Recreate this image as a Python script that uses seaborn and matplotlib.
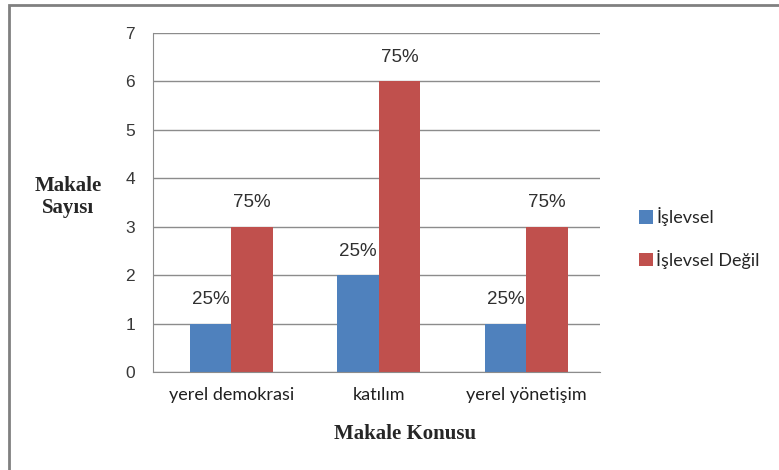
import numpy as np
import pandas as pd
import seaborn as sns
import matplotlib.pyplot as plt
from matplotlib.patches import Rectangle, Patch

# data
konular = ['yerel demokrasi', 'katılım', 'yerel yönetişim']
islevsel = [1, 2, 1]
islevsel_degil = [3, 6, 3]
yuzde_islevsel = ['25%', '25%', '25%']
yuzde_degil = ['75%', '75%', '75%']
seriler = ['İşlevsel', 'İşlevsel Değil']
renkler = ['#4F81BD', '#C0504D']

df = pd.DataFrame({
    'konu': konular * 2,
    'seri': [seriler[0]] * 3 + [seriler[1]] * 3,
    'sayi': islevsel + islevsel_degil,
})

sns.set_style('white')
plt.rcParams['font.family'] = ['Liberation Sans', 'DejaVu Sans']

fig = plt.figure(figsize=(7.79, 4.70), dpi=100)
fig.patch.set_facecolor('white')
ax = fig.add_axes([153 / 779, 1 - 372 / 470, 447 / 779, 339 / 470])

sns.barplot(data=df, x='konu', y='sayi', hue='seri', palette=renkler,
            width=0.565, saturation=1, ax=ax, legend=False,
            linewidth=0, edgecolor='none')

ax.set_ylim(0, 7)
ax.set_xlim(-0.53, 2.5)
ax.set_yticks(range(0, 8))
ax.yaxis.grid(True, color='#8c8c8c', linewidth=1)
ax.set_axisbelow(True)
for s in ['top', 'right']:
    ax.spines[s].set_visible(False)
for s in ['left', 'bottom']:
    ax.spines[s].set_color('#8c8c8c')

ax.tick_params(axis='y', length=5, color='#8c8c8c', labelsize=12.5,
               labelcolor='#383838', direction='out', pad=8)
ax.set_xticks([-0.53, 0.5, 1.5, 2.5])
ax.set_xticklabels([])
ax.set_xticks(range(3), minor=True)
ax.set_xticklabels(konular, minor=True, fontsize=13, color='#202020',
                   family=['Lato', 'DejaVu Sans'])
ax.tick_params(axis='x', which='major', length=6, color='#8c8c8c', direction='out')
ax.tick_params(axis='x', which='minor', length=0, pad=11)
ax.set_xlabel('')
ax.set_ylabel('')

# percent labels above bars
for cont, etiket in zip(ax.containers, [yuzde_islevsel, yuzde_degil]):
    ax.bar_label(cont, labels=etiket, padding=11, fontsize=13.5, color='#303030')

fig.text(68 / 779, 1 - 197 / 470, 'Makale\nSayısı', ha='center', va='center',
         fontsize=15, fontweight='bold', family=['Liberation Serif', 'DejaVu Serif'],
         linespacing=1.15)
fig.text(405 / 779, 1 - 434 / 470, 'Makale Konusu', ha='center', va='center',
         fontsize=15, fontweight='bold', family=['Liberation Serif', 'DejaVu Serif'])

handles = [Patch(facecolor=c, edgecolor='none') for c in renkler]
fig.legend(handles, seriler, loc='center left', bbox_to_anchor=(639 / 779, 1 - 238 / 470),
           frameon=False, handlelength=0.75, handleheight=0.75, borderpad=0,
           borderaxespad=0, handletextpad=0.2, labelspacing=1.3,
           prop={'family': ['Lato', 'DejaVu Sans'], 'size': 13})

# outer chart border (clipped on the right and bottom)
fig.patches.append(Rectangle((9 / 779, -0.1), 1.2, 1 - 5 / 470 + 0.1,
                             transform=fig.transFigure, fill=False,
                             edgecolor='#808080', linewidth=2))

fig.savefig('out.png', dpi=100)
